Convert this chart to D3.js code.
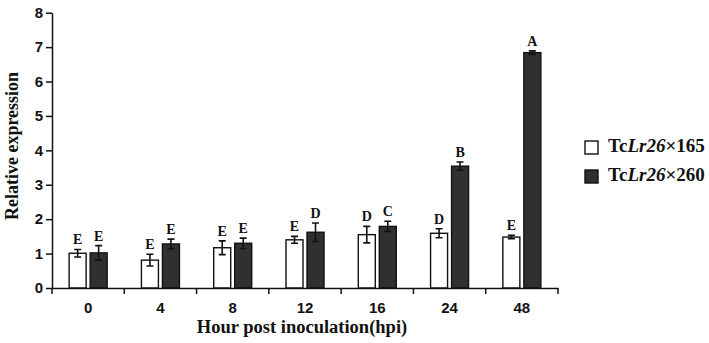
<!DOCTYPE html>
<html>
<head>
<meta charset="utf-8">
<script src="https://cdn.jsdelivr.net/npm/d3@7"></script>
<style>
  body { margin: 0; background: #fff; }
  .tick text { font-family: "Liberation Sans", Arial, sans-serif; font-weight: bold; font-size: 15px; fill: #111; }
  .domain, .tick line { stroke: #111; stroke-width: 1.5; }
</style>
</head>
<body>
<svg width="709" height="343"></svg>
<script>
var categories = ["0", "4", "8", "12", "16", "24", "48"];
var mean165 = [1.01, 0.81, 1.17, 1.40, 1.55, 1.59, 1.48];
var err165  = [0.11, 0.17, 0.20, 0.10, 0.24, 0.13, 0.05];
var mean260 = [1.02, 1.28, 1.30, 1.62, 1.79, 3.54, 6.84];
var err260  = [0.21, 0.14, 0.15, 0.27, 0.15, 0.12, 0.05];
var letters165 = ["E", "E", "E", "E", "D", "D", "E"];
var letters260 = ["E", "E", "E", "D", "C", "B", "A"];
var yTicks = [0, 1, 2, 3, 4, 5, 6, 7, 8];

var svg = d3.select("svg");

var x = d3.scaleBand()
    .domain(categories)
    .range([52, 558]);

var y = d3.scaleLinear()
    .domain([0, 8])
    .range([288, 12.7]);

var series = [
  { name: "165", mean: mean165, err: err165, letters: letters165, fill: "#fff", off: -10.5 },
  { name: "260", mean: mean260, err: err260, letters: letters260, fill: "#303030", off: 10.5 }
];
var barW = 17;

// bars
series.forEach(function(s) {
  var g = svg.append("g");
  var rows = categories.map(function(c, i) {
    return { c: c, v: s.mean[i], e: s.err[i], l: s.letters[i] };
  });
  var cx = function(d) { return x(d.c) + x.bandwidth() / 2 + s.off; };

  g.selectAll("rect")
    .data(rows)
    .enter().append("rect")
      .attr("x", function(d) { return cx(d) - barW / 2; })
      .attr("y", function(d) { return y(d.v); })
      .attr("width", barW)
      .attr("height", function(d) { return y(0) - y(d.v); })
      .attr("fill", s.fill)
      .attr("stroke", "#111")
      .attr("stroke-width", 1.4);

  // error bars
  g.selectAll("path.err")
    .data(rows)
    .enter().append("path")
      .attr("class", "err")
      .attr("fill", "none")
      .attr("stroke", "#111")
      .attr("stroke-width", 1.6)
      .attr("d", function(d) {
        var px = cx(d), t = y(d.v + d.e), b = y(d.v - d.e);
        return "M" + (px - 3.5) + "," + t + "H" + (px + 3.5) +
               "M" + px + "," + t + "V" + b +
               "M" + (px - 3.5) + "," + b + "H" + (px + 3.5);
      });

  // significance letters
  g.selectAll("text")
    .data(rows)
    .enter().append("text")
      .attr("x", cx)
      .attr("y", function(d) { return y(d.v + d.e) - 5; })
      .attr("text-anchor", "middle")
      .style("font-family", "'Liberation Serif', 'Times New Roman', serif")
      .style("font-weight", "bold")
      .style("font-size", "14px")
      .attr("fill", "#111")
      .text(function(d) { return d.l; });
});

// axes
svg.append("g")
    .attr("transform", "translate(52,0)")
    .call(d3.axisLeft(y).tickValues(yTicks).tickSize(6).tickPadding(3).tickSizeOuter(0));

var xAxis = svg.append("g")
    .attr("transform", "translate(0,288)")
    .call(d3.axisBottom(x).tickSize(0).tickPadding(14).tickSizeOuter(0));

// ticks at band edges
var edges = categories.map(function(c) { return x(c); }).concat([x.range()[1]]);
xAxis.selectAll("line.edge")
    .data(edges)
    .enter().append("line")
      .attr("class", "edge")
      .attr("x1", function(d) { return d; })
      .attr("x2", function(d) { return d; })
      .attr("y1", 0)
      .attr("y2", 6)
      .attr("stroke", "#111")
      .attr("stroke-width", 1.5);

// axis titles
svg.append("text")
    .attr("x", 302)
    .attr("y", 333)
    .attr("text-anchor", "middle")
    .style("font-family", "'Liberation Serif', 'Times New Roman', serif")
    .style("font-weight", "bold")
    .style("font-size", "18.5px")
    .attr("fill", "#111")
    .text("Hour post inoculation(hpi)");

svg.append("text")
    .attr("transform", "translate(18,146) rotate(-90)")
    .attr("text-anchor", "middle")
    .style("font-family", "'Liberation Serif', 'Times New Roman', serif")
    .style("font-weight", "bold")
    .style("font-size", "18px")
    .attr("fill", "#111")
    .text("Relative expression");

// legend
var legend = svg.append("g").attr("transform", "translate(585,141)");
series.forEach(function(s, i) {
  var row = legend.append("g").attr("transform", "translate(0," + (i * 29) + ")");
  row.append("rect")
      .attr("width", 13)
      .attr("height", 13)
      .attr("fill", s.fill)
      .attr("stroke", "#111")
      .attr("stroke-width", 1.4);
  var t = row.append("text")
      .attr("x", 23)
      .attr("y", 11)
      .style("font-family", "'Liberation Serif', 'Times New Roman', serif")
      .style("font-weight", "bold")
      .style("font-size", "19px")
      .attr("fill", "#111");
  t.append("tspan").text("Tc");
  t.append("tspan").style("font-style", "italic").text("Lr26");
  t.append("tspan").text("\u00d7" + s.name);
});
</script>
</body>
</html>
